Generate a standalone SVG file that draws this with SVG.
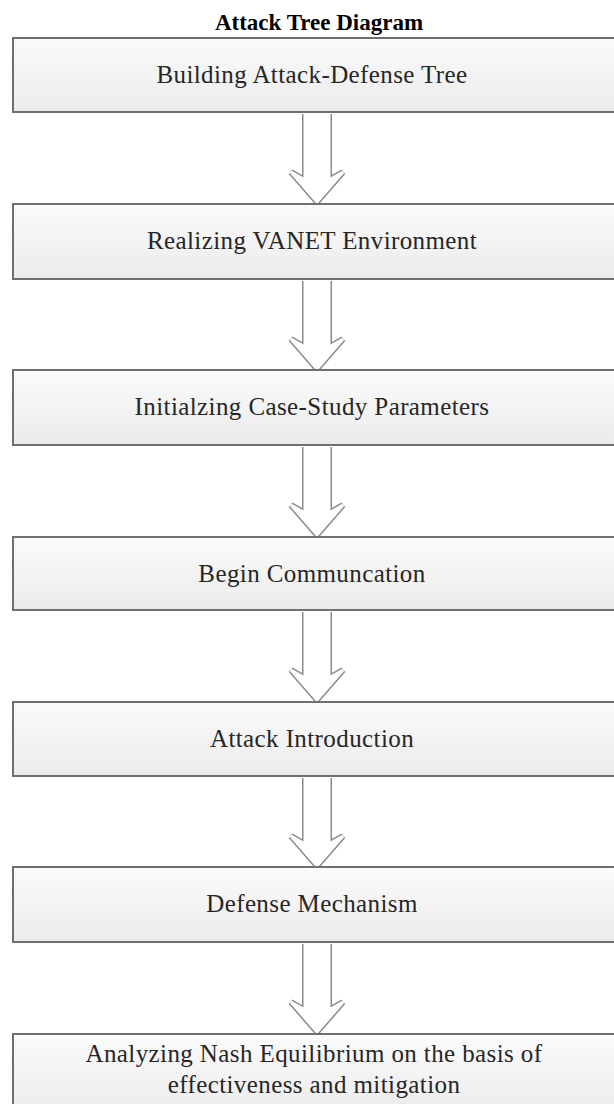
<svg xmlns="http://www.w3.org/2000/svg" width="614" height="1104" viewBox="0 0 614 1104">
<defs>
<linearGradient id="boxg" x1="0" y1="0" x2="0" y2="1">
<stop offset="0" stop-color="#fbfbfb"/>
<stop offset="1" stop-color="#ebebeb"/>
</linearGradient>
<path id="arr" d="M305,0 V66 L291,58 L317,88 L343,58 L329,66 V0"/>
</defs>
<style>
.box{fill:url(#boxg);stroke:#6f6f6f;stroke-width:2}
.lbl{font-family:"Liberation Serif","Times New Roman",serif;font-size:25px;fill:#262626;text-anchor:middle;letter-spacing:0.4px}
.title{font-family:"Liberation Serif","Times New Roman",serif;font-size:23px;font-weight:bold;fill:#000;text-anchor:middle}
.ao{fill:#fff;stroke:#8a8a8a;stroke-width:6;stroke-linejoin:miter}
.ai{fill:#fff;stroke:#fff;stroke-width:3;stroke-linejoin:miter}
</style>
<rect width="614" height="1104" fill="#fff"/>
<text class="title" x="319" y="30">Attack Tree Diagram</text>
<g id="connectors">
<g transform="translate(0,114)"><use href="#arr" class="ao"/><use href="#arr" class="ai"/></g>
<g transform="translate(0,281)"><use href="#arr" class="ao"/><use href="#arr" class="ai"/></g>
<g transform="translate(0,447)"><use href="#arr" class="ao"/><use href="#arr" class="ai"/></g>
<g transform="translate(0,612)"><use href="#arr" class="ao"/><use href="#arr" class="ai"/></g>
<g transform="translate(0,778)"><use href="#arr" class="ao"/><use href="#arr" class="ai"/></g>
<g transform="translate(0,944)"><use href="#arr" class="ao"/><use href="#arr" class="ai"/></g>
</g>
<g id="n1"><rect class="box" x="13" y="38" width="610" height="74"/><text class="lbl" x="312" y="83">Building Attack-Defense Tree</text></g>
<g id="n2"><rect class="box" x="13" y="204" width="610" height="75"/><text class="lbl" x="312" y="249">Realizing VANET Environment</text></g>
<g id="n3"><rect class="box" x="13" y="370" width="610" height="75"/><text class="lbl" x="312" y="415">Initialzing Case-Study Parameters</text></g>
<g id="n4"><rect class="box" x="13" y="537" width="610" height="73"/><text class="lbl" x="312" y="582">Begin Communcation</text></g>
<g id="n5"><rect class="box" x="13" y="702" width="610" height="74"/><text class="lbl" x="312" y="747">Attack Introduction</text></g>
<g id="n6"><rect class="box" x="13" y="867" width="610" height="75"/><text class="lbl" x="312" y="912">Defense Mechanism</text></g>
<g id="n7"><rect class="box" x="13" y="1034" width="610" height="80"/><text class="lbl" x="314" y="1062">Analyzing Nash Equilibrium on the basis of</text><text class="lbl" x="314" y="1093">effectiveness and mitigation</text></g>
</svg>
